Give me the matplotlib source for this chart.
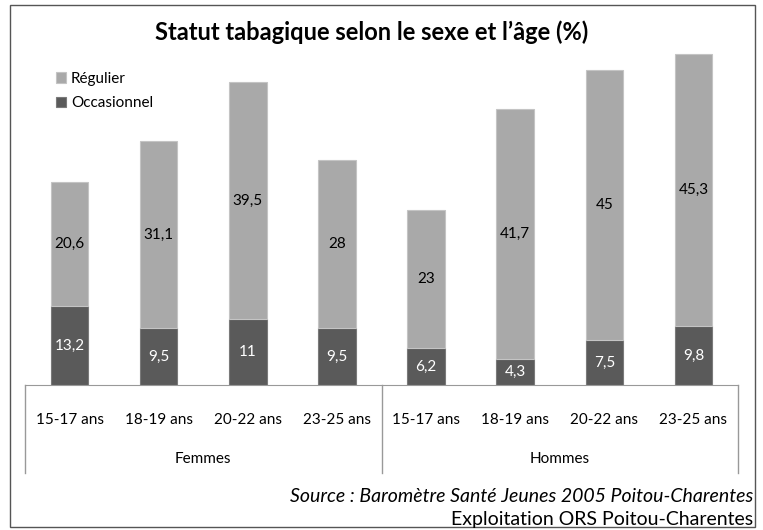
import matplotlib.pyplot as plt
import matplotlib.transforms as mtransforms
from matplotlib.patches import Rectangle
import numpy as np

plt.rcParams['font.family'] = ['Lato', 'DejaVu Sans']

age_labels = ['15-17 ans', '18-19 ans', '20-22 ans', '23-25 ans',
              '15-17 ans', '18-19 ans', '20-22 ans', '23-25 ans']
groups = ['Femmes', 'Hommes']
occasionnel = [13.2, 9.5, 11, 9.5, 6.2, 4.3, 7.5, 9.8]
regulier = [20.6, 31.1, 39.5, 28, 23, 41.7, 45, 45.3]

W, H = 763, 530
fig = plt.figure(figsize=(W / 100, H / 100), dpi=100)

# outer frame of the chart
fig.patches.append(Rectangle((10 / W, 1 - 527 / H), 745 / W, 522 / H,
                             transform=fig.transFigure, fill=False,
                             edgecolor='#555555', linewidth=1))

ax = fig.add_axes([25 / W, 1 - 385 / H, 713 / W, 360 / H])
x = np.arange(len(age_labels))
bw = 0.42

ax.bar(x, occasionnel, width=bw, color='#5a5a5a', edgecolor='#7a7a7a',
       linewidth=0.8, label='Occasionnel', zorder=2)
ax.bar(x, regulier, width=bw, bottom=occasionnel, color='#a9a9a9',
       edgecolor='#c4c4c4', linewidth=0.8, label='Régulier', zorder=2)

for xi, o, r in zip(x, occasionnel, regulier):
    ax.text(xi, o / 2, f'{o:g}'.replace('.', ','), ha='center', va='center',
            color='white', fontsize=11)
    ax.text(xi, o + r / 2, f'{r:g}'.replace('.', ','), ha='center',
            va='center', color='black', fontsize=11)

ax.set_xlim(-0.5, len(x) - 0.5)
ax.set_ylim(0, 60)
ax.set_yticks([])
ax.set_xticks(x)
ax.set_xticklabels(age_labels, fontsize=11)
ax.tick_params(axis='x', length=0, pad=20)
for s in ['top', 'left', 'right']:
    ax.spines[s].set_visible(False)
ax.spines['bottom'].set_color('#999999')

# group separators and labels under the axis
trans = mtransforms.blended_transform_factory(ax.transData, ax.transAxes)
for xs in [-0.5, 3.5, 7.5]:
    ax.plot([xs, xs], [0, -88 / 360], transform=trans, color='#999999',
            linewidth=1, clip_on=False)
for gi, g in enumerate(groups):
    ax.text(1.5 + 4 * gi, -74 / 360, g, transform=trans, ha='center',
            va='center', fontsize=11)

handles, labels = ax.get_legend_handles_labels()
fig.legend(handles[::-1], labels[::-1], loc='upper left',
           bbox_to_anchor=(42 / W, 1 - 58 / H), frameon=False, fontsize=11,
           handlelength=0.7, handleheight=0.7, handletextpad=0.3,
           labelspacing=0.7)

fig.text(372 / W, 1 - 32 / H, "Statut tabagique selon le sexe et l’âge (%)",
         ha='center', va='center', fontsize=17, fontweight='bold')
fig.text(753 / W, 1 - 496 / H,
         'Source : Baromètre Santé Jeunes 2005 Poitou-Charentes',
         ha='right', va='center', fontsize=14, style='italic')
fig.text(753 / W, 1 - 520 / H, 'Exploitation ORS Poitou-Charentes',
         ha='right', va='center', fontsize=14)

fig.savefig('out.png', dpi=100)
